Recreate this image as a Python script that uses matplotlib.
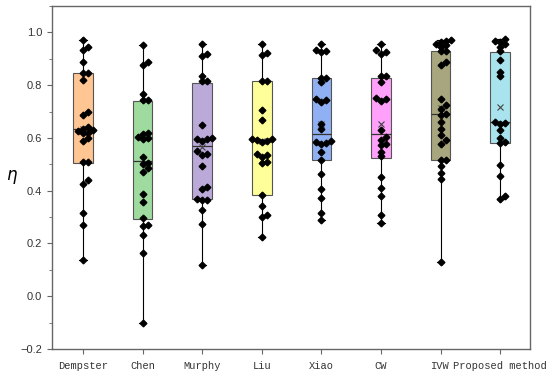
import numpy as np
import matplotlib
matplotlib.use("Agg")
import matplotlib.pyplot as plt
from matplotlib.ticker import MultipleLocator

# method names and colours
methods = ['Dempster', 'Chen', 'Murphy', 'Liu', 'Xiao', 'CW', 'IVW', 'Proposed method']
colors = ['#FFC593', '#9FDB9F', '#BBA9D9', '#FFFF99', '#8FB0F2', '#FFA0FA', '#A8A67E', '#A9E3ED']

# eta values per method
dempster = [0.972, 0.944, 0.932, 0.888, 0.846, 0.846, 0.821, 0.700, 0.688, 0.640, 0.635, 0.630,
            0.625, 0.620, 0.617, 0.600, 0.590, 0.508, 0.508, 0.440, 0.427, 0.316, 0.271, 0.136]
chen = [0.951, 0.888, 0.878, 0.766, 0.742, 0.742, 0.618, 0.614, 0.605, 0.600, 0.595, 0.528,
        0.505, 0.500, 0.485, 0.471, 0.389, 0.357, 0.295, 0.269, 0.266, 0.231, 0.162, -0.100]
murphy = [0.955, 0.919, 0.909, 0.833, 0.814, 0.814, 0.648, 0.600, 0.597, 0.594, 0.588, 0.549,
          0.540, 0.534, 0.494, 0.414, 0.408, 0.368, 0.366, 0.364, 0.328, 0.275, 0.117]
liu = [0.955, 0.922, 0.913, 0.814, 0.814, 0.707, 0.669, 0.597, 0.595, 0.592, 0.590, 0.585,
       0.540, 0.534, 0.527, 0.509, 0.503, 0.383, 0.342, 0.307, 0.300, 0.225]
xiao = [0.957, 0.935, 0.930, 0.925, 0.828, 0.828, 0.812, 0.749, 0.745, 0.736, 0.654, 0.635,
        0.588, 0.585, 0.582, 0.578, 0.547, 0.515, 0.465, 0.405, 0.372, 0.316, 0.288]
cw = [0.957, 0.934, 0.926, 0.919, 0.833, 0.833, 0.812, 0.753, 0.746, 0.739, 0.631, 0.604,
      0.593, 0.578, 0.572, 0.547, 0.530, 0.452, 0.410, 0.380, 0.307, 0.278]
ivw = [0.972, 0.968, 0.962, 0.957, 0.952, 0.945, 0.930, 0.928, 0.888, 0.875, 0.749, 0.723,
       0.711, 0.692, 0.686, 0.660, 0.635, 0.610, 0.591, 0.576, 0.518, 0.515, 0.492, 0.467,
       0.446, 0.128]
proposed = [0.976, 0.968, 0.962, 0.955, 0.944, 0.928, 0.896, 0.850, 0.833, 0.662, 0.657, 0.652,
            0.629, 0.601, 0.585, 0.582, 0.496, 0.455, 0.379, 0.370]

# box edges as drawn in the figure
q1 = [0.504, 0.294, 0.367, 0.383, 0.515, 0.524, 0.518, 0.582]
med = [0.633, 0.513, 0.568, 0.591, 0.616, 0.616, 0.692, 0.660]
q3 = [0.845, 0.740, 0.808, 0.814, 0.828, 0.828, 0.929, 0.927]

groups = [dempster, chen, murphy, liu, xiao, cw, ivw, proposed]


def swarm_offsets(vals, step_px=5.0, hit_px=4.0, ypx=264.0, xpx=59.7):
    # simple beeswarm: push overlapping points sideways
    vals = np.asarray(vals)
    offs = np.zeros(len(vals))
    placed = []
    for i in np.argsort(vals):
        y = vals[i] * ypx
        for k in [0, 1, -1, 2, -2, 3, -3]:
            x = k * step_px
            if all((x - px) ** 2 + (y - py) ** 2 >= hit_px ** 2 for px, py in placed):
                break
        placed.append((x, y))
        offs[i] = x / xpx
    return offs


fig = plt.figure(figsize=(5.5, 3.76), dpi=100)
ax = fig.add_axes([0.0945, 0.072, 0.869, 0.912])

positions = np.arange(1, len(methods) + 1)
stats = []
for i, g in enumerate(groups):
    stats.append({
        'med': med[i], 'q1': q1[i], 'q3': q3[i],
        'whislo': min(g), 'whishi': max(g),
        'mean': np.mean(g), 'fliers': [],
    })

bp = ax.bxp(stats, positions=positions, widths=0.33, capwidths=0.12,
            patch_artist=True, showmeans=True,
            boxprops=dict(edgecolor='#555555', linewidth=0.8),
            medianprops=dict(color='#333333', linewidth=0.9),
            whiskerprops=dict(color='black', linewidth=0.8),
            capprops=dict(color='black', linewidth=0.8),
            meanprops=dict(marker='x', markeredgecolor='#444444', markersize=5,
                           markeredgewidth=0.8))
for patch, c in zip(bp['boxes'], colors):
    patch.set_facecolor(c)

for pos, g in zip(positions, groups):
    offs = swarm_offsets(g)
    ax.plot(pos + offs, g, linestyle='none', marker='D', markersize=3.4,
            color='black', zorder=5)

ax.set_xlim(0.48, 8.5)
ax.set_ylim(-0.2, 1.1)
ax.yaxis.set_major_locator(MultipleLocator(0.2))
ax.yaxis.set_minor_locator(MultipleLocator(0.1))
ax.set_xticks(positions)
ax.set_xticklabels(methods, family='Liberation Mono', fontsize=7.5, color='#333333')
for lab in ax.get_yticklabels():
    lab.set_family('Liberation Sans')
ax.tick_params(axis='y', which='major', labelsize=8, length=3.5, color='#666666',
               labelcolor='#333333')
ax.tick_params(axis='y', which='minor', length=2, color='#666666')
ax.tick_params(axis='x', length=3.5, color='#666666', pad=5)
for s in ax.spines.values():
    s.set_color('#666666')
    s.set_linewidth(1.0)

ax.set_ylabel('$\\eta$', rotation=0, fontsize=12, labelpad=6, va='center')

plt.savefig('out.png', dpi=100)
